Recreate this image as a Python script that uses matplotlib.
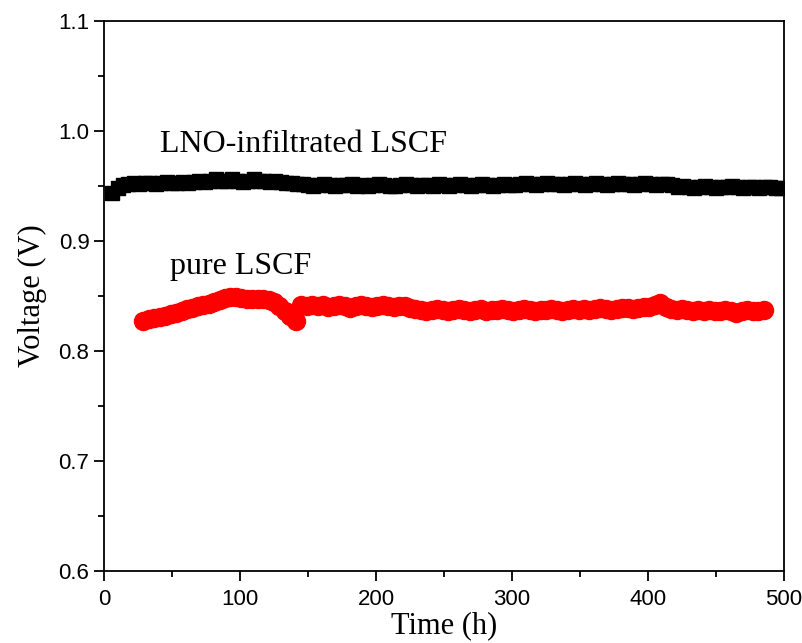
import numpy as np
import matplotlib
matplotlib.use("Agg")
import matplotlib.pyplot as plt
from matplotlib.ticker import MultipleLocator

# LNO-infiltrated LSCF (black squares), sampled every 4 h
t_lno = np.arange(6, 499, 4)
v_lno = [
    0.944, 0.948, 0.951, 0.952,
    0.953, 0.952, 0.953, 0.953, 0.952, 0.953, 0.954, 0.953, 0.953, 0.954, 0.953, 0.954,
    0.955, 0.954, 0.955, 0.956, 0.955, 0.955, 0.956, 0.955, 0.954, 0.955,
    0.956, 0.955, 0.955, 0.954, 0.955, 0.954, 0.953, 0.953, 0.952, 0.952,
    0.951, 0.950, 0.951, 0.952, 0.951, 0.950, 0.951, 0.951, 0.952, 0.950,
    0.951, 0.950, 0.951, 0.952, 0.951, 0.950, 0.950, 0.951, 0.952, 0.951,
    0.950, 0.951, 0.951, 0.950, 0.952, 0.951, 0.950, 0.951, 0.952, 0.951,
    0.950, 0.951, 0.952, 0.951, 0.950, 0.951, 0.952, 0.951, 0.951,
    0.952, 0.953, 0.952, 0.951, 0.952, 0.953, 0.952, 0.952, 0.951, 0.952,
    0.953, 0.952, 0.951, 0.952, 0.953, 0.952, 0.951, 0.952, 0.953, 0.952,
    0.952, 0.951, 0.952, 0.953, 0.952, 0.951, 0.952, 0.952, 0.951,
    0.949, 0.950, 0.949, 0.948, 0.949, 0.950, 0.949, 0.948, 0.949, 0.949,
    0.950, 0.949, 0.948, 0.949, 0.949, 0.948, 0.949, 0.949, 0.948, 0.948,
]

# pure LSCF (red circles), sampled every 4 h
t_lscf = np.arange(29, 486, 4)
v_lscf = [
    0.827, 0.829, 0.830, 0.831, 0.832, 0.834, 0.835, 0.836, 0.838, 0.839,
    0.841, 0.842, 0.843, 0.845, 0.846, 0.848, 0.849, 0.849, 0.848, 0.847,
    0.847, 0.847, 0.847, 0.846, 0.845, 0.841, 0.836, 0.832, 0.827, 0.842,
    0.841, 0.842, 0.841, 0.842, 0.840, 0.841, 0.842, 0.841, 0.839, 0.841,
    0.842, 0.841, 0.840, 0.841, 0.842, 0.841, 0.840, 0.841, 0.841, 0.839,
    0.838,
    0.837, 0.836, 0.837, 0.838, 0.837, 0.836, 0.837, 0.838, 0.837, 0.836,
    0.837, 0.838, 0.836, 0.837, 0.837, 0.838, 0.837, 0.836, 0.837, 0.838,
    0.837, 0.836, 0.837, 0.837, 0.838, 0.837, 0.836, 0.837, 0.838, 0.837,
    0.838, 0.837, 0.838, 0.839, 0.838, 0.837, 0.838, 0.839, 0.839, 0.838,
    0.839, 0.840,
    0.840, 0.842, 0.844, 0.840,
    0.838, 0.837, 0.838, 0.837, 0.836, 0.837, 0.836, 0.837, 0.836, 0.836,
    0.837, 0.836, 0.835, 0.836, 0.837, 0.836, 0.836, 0.837,
]

fig = plt.figure(figsize=(8.03, 6.43), dpi=100)
ax = fig.add_axes([0.1295, 0.112, 0.8468, 0.8553])

ax.plot(t_lno, v_lno, "s", color="black", markersize=10, linestyle="-", linewidth=6)
ax.plot(t_lscf, v_lscf, "o", color="red", markersize=13, linestyle="-", linewidth=7)

ax.text(41, 0.988, "LNO-infiltrated LSCF", family="Liberation Serif", fontsize=23, va="center")
ax.text(48.5, 0.877, "pure LSCF", family="Liberation Serif", fontsize=23, va="center")

ax.set_xlim(0, 500)
ax.set_ylim(0.6, 1.1)
ax.xaxis.set_major_locator(MultipleLocator(100))
ax.xaxis.set_minor_locator(MultipleLocator(50))
ax.yaxis.set_major_locator(MultipleLocator(0.1))
ax.yaxis.set_minor_locator(MultipleLocator(0.05))
ax.yaxis.set_major_formatter(matplotlib.ticker.FormatStrFormatter("%.1f"))

ax.tick_params(which="major", direction="out", length=7, width=1.3, labelsize=16)
ax.tick_params(which="minor", direction="out", length=4, width=1.3)
ax.tick_params(axis="x", pad=6)
for lbl in ax.get_xticklabels() + ax.get_yticklabels():
    lbl.set_family("Liberation Sans")
for sp in ax.spines.values():
    sp.set_linewidth(1.3)

ax.set_xlabel("Time (h)", family="Liberation Serif", fontsize=22, labelpad=1)
ax.set_ylabel("Voltage (V)", family="Liberation Serif", fontsize=22, labelpad=8)

fig.savefig("out.png", dpi=100)
